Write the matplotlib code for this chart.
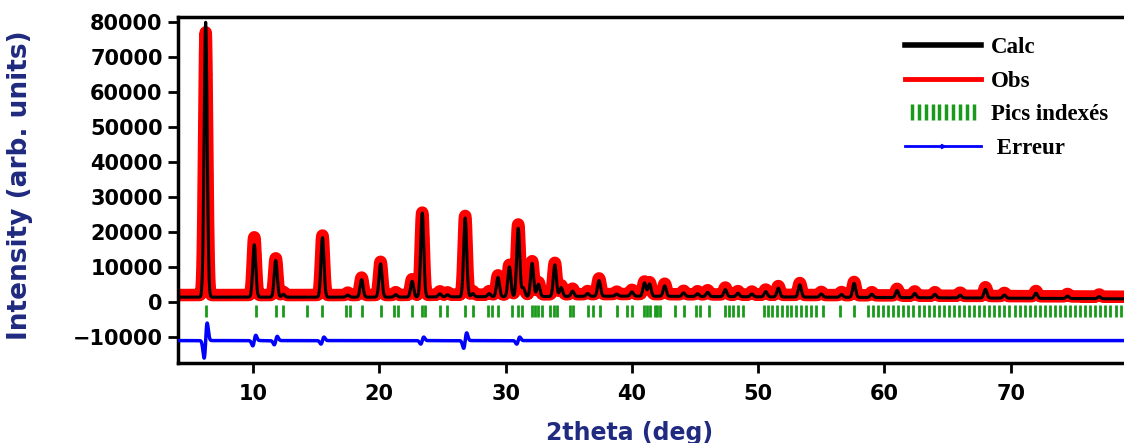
import numpy as np
import matplotlib
matplotlib.use("Agg")
import matplotlib.pyplot as plt
from matplotlib.lines import Line2D
from matplotlib.legend_handler import HandlerLine2D

# peaks: position (deg), calc height, obs height (above background)
peak_pos = [6.25, 10.1, 11.8, 12.4, 15.5, 17.5, 18.6, 20.1, 21.3, 22.6, 23.4, 24.8,
            25.4, 26.8, 27.4, 28.7, 29.4, 30.3, 31.0, 31.4, 32.1, 32.6, 33.9, 34.4,
            35.3, 36.5, 37.4, 38.8, 40.0, 41.0, 41.4, 42.6, 44.1, 45.2, 46.0, 47.4,
            48.4, 49.5, 50.6, 51.6, 53.3, 55.0, 56.6, 57.6, 59.0, 61.0, 62.4, 64.0,
            66.0, 68.0, 69.5, 72.0, 74.5, 77.0]
calc_h = [78500, 15000, 10500, 800, 17000, 600, 5000, 9500, 700, 4500, 24000, 900,
          600, 22500, 900, 900, 5500, 8500, 19500, 2500, 9500, 3500, 9000, 2500,
          1500, 800, 4500, 600, 1200, 3800, 3500, 3000, 1000, 800, 1200, 2000,
          1000, 800, 1500, 2500, 3500, 900, 800, 4000, 900, 2000, 1200, 1000,
          800, 2500, 900, 1500, 700, 600]
obs_h = [75000, 16500, 10500, 900, 17000, 700, 5000, 9500, 800, 4500, 23500, 1000,
         700, 22500, 1000, 1000, 5500, 8500, 20000, 2600, 9500, 3500, 9000, 2600,
         1600, 900, 4500, 700, 1200, 3600, 3400, 3000, 1000, 900, 1200, 2000,
         1000, 900, 1500, 2500, 3400, 900, 900, 3800, 900, 1900, 1200, 1000,
         900, 2500, 900, 1500, 700, 600]

# background anchor points
bg_x = [4, 20, 40, 60, 80]
bg_calc = [1400, 1400, 1700, 1300, 900]
obs_offset = 600

# Bragg tick positions (Pics indexés)
hkl_pos = [6.25, 10.2, 11.8, 12.4, 14.3, 15.5, 17.4, 17.7, 18.6, 20.1, 21.2, 21.5,
           22.6, 23.4, 23.6, 24.8, 25.4, 26.8, 27.4, 28.6, 28.9, 29.4, 30.5, 31.0,
           31.3, 32.1, 32.3, 32.6, 32.9, 33.5, 33.8, 34.1, 35.1, 35.3, 36.5, 36.9,
           37.5, 38.8, 39.6, 40.0, 41.0, 41.2, 41.4, 41.8, 42.0, 42.2, 43.4, 44.1,
           45.1, 45.4, 46.1, 47.4, 47.7, 48.0, 48.4, 48.8, 50.5, 50.8, 51.1, 51.5,
           51.9, 52.3, 52.6, 53.0, 53.4, 53.8, 54.2, 54.6, 55.1, 56.5, 57.6, 58.7,
           59.1, 59.5, 59.9, 60.3, 60.7, 61.1, 61.5, 61.9, 62.3, 62.7, 63.1, 63.5,
           63.9, 64.3, 64.7, 65.1, 65.5, 65.9, 66.3, 66.7, 67.1, 67.5, 67.9, 68.3,
           68.7, 69.1, 69.5, 69.9, 70.3, 70.7, 71.1, 71.5, 71.9, 72.3, 72.7, 73.1,
           73.5, 73.9, 74.3, 74.7, 75.1, 75.5, 75.9, 76.3, 76.7, 77.1, 77.5, 77.9,
           78.3, 78.7]

# difference curve spikes (amplitude) at main peaks
err_pos = [6.25, 10.1, 11.8, 15.5, 23.4, 26.8, 31.0]
err_amp = [5000, 1500, 1200, 1000, 1000, 2200, 1000]
err_base = -11000

x = np.linspace(4, 80, 7600)
w = 0.12


def profile(heights):
    y = np.zeros_like(x)
    for p, h in zip(peak_pos, heights):
        y += h * np.exp(-0.5 * ((x - p) / w) ** 2)
    return y


bg = np.interp(x, bg_x, bg_calc)
calc = bg + profile(calc_h)
obs = bg + obs_offset + profile(obs_h)
err = np.full_like(x, err_base, dtype=float)
for p, a in zip(err_pos, err_amp):
    u = (x - p) / w
    err += a * 1.65 * u * np.exp(-0.5 * u ** 2)

fig = plt.figure(figsize=(11.24, 4.43), dpi=100)
ax = fig.add_axes([178 / 1124, 80 / 443, 959 / 1124, 346 / 443])

ax.plot(x, obs, color="red", lw=9, solid_capstyle="round", zorder=2)
ax.plot(x[::2], obs[::2], "o", color="red", ms=7, mew=0, zorder=2)
ax.plot(x, calc, color="black", lw=2.2, zorder=3)
ax.plot(hkl_pos, np.full(len(hkl_pos), -2500), "|", color="#1a9a1a", ms=9, mew=2, zorder=3)
ax.plot(x, err, color="blue", lw=2.5, zorder=3)

ax.set_xlim(4.06, 80)
ax.set_ylim(-17400, 81400)
ax.set_yticks(np.arange(-10000, 80001, 10000))
ax.set_xticks(np.arange(10, 71, 10))

for s in ax.spines.values():
    s.set_linewidth(2.5)
ax.tick_params(axis="both", direction="out", length=7, width=2, pad=4)
for lab in ax.get_xticklabels() + ax.get_yticklabels():
    lab.set_fontweight("bold")
    lab.set_fontsize(15)
    lab.set_family("DejaVu Sans")
ax.tick_params(axis="x", pad=8)

ax.set_ylabel("Intensity (arb. units)", color="#1f2a80", fontsize=19, fontweight="bold")
ax.yaxis.set_label_coords((33 - 178) / 959, (363 - 185) / 346)
ax.set_xlabel("2theta (deg)", color="#1f2a80", fontsize=17, fontweight="bold")
ax.xaxis.set_label_coords((630 - 178) / 959, (363 - 421) / 346)

h_calc = Line2D([], [], color="black", lw=4)
h_obs = Line2D([], [], color="red", lw=3.5)
h_hkl = Line2D([], [], color="#1a9a1a", ls="none", marker="|", ms=12, mew=2.5)
h_err = Line2D([], [], color="blue", lw=2, marker=">", ms=3, markevery=[1])
leg = fig.legend([h_calc, h_obs, h_hkl, h_err], ["Calc", "Obs", "Pics indexés", " Erreur"],
                 loc="upper left", bbox_to_anchor=(905 / 1124, 1 - 37 / 443),
                 frameon=False, borderpad=0, borderaxespad=0, handlelength=3.3,
                 handletextpad=0.45, labelspacing=0.55,
                 handler_map={h_hkl: HandlerLine2D(numpoints=10)},
                 prop={"family": "Liberation Serif", "weight": "bold", "size": 16.5})

fig.savefig("out.png", dpi=100)
